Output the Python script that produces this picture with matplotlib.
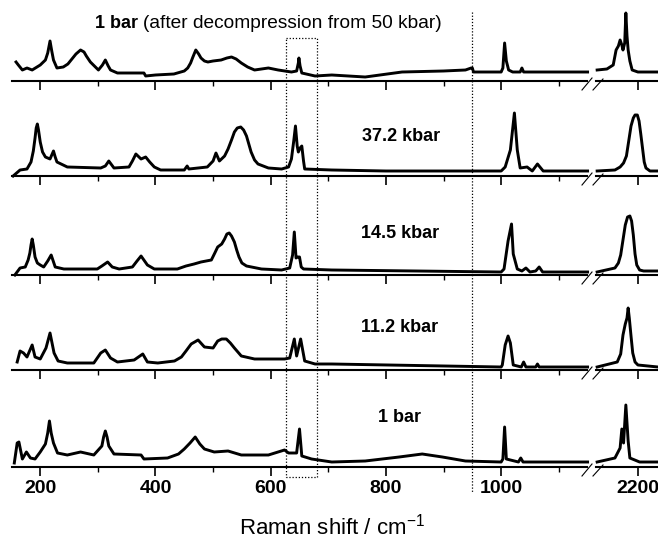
import matplotlib
matplotlib.use("Agg")
import matplotlib.pyplot as plt
from matplotlib.lines import Line2D
from matplotlib.ticker import FixedLocator
from matplotlib.transforms import blended_transform_factory

plt.rcParams['font.family'] = ['Liberation Sans', 'DejaVu Sans']
plt.rcParams['mathtext.fontset'] = 'custom'
plt.rcParams['mathtext.rm'] = 'Liberation Sans'
plt.rcParams['mathtext.it'] = 'Liberation Sans'

# Spectra (x: Raman shift in cm-1, y: height above baseline, px)
# 1 bar, after decompression from 50 kbar
decomp_x = [158, 162, 169, 177, 186, 200, 209, 213, 217, 220, 223, 229, 240, 248, 255, 262,
            270, 276, 280, 287, 301, 308, 313, 318, 322, 334, 360, 380, 383, 400, 432, 450,
            456, 461, 465, 470, 475, 479, 485, 491, 500, 514, 524, 532, 540, 549, 560, 572,
            596, 613, 636, 645, 648, 649, 651, 654, 677, 706, 764, 828, 900, 938, 948, 950,
            952, 1000, 1003, 1006, 1009, 1013, 1020, 1033, 1036, 1039, 1100, 1150]
decomp_y = [19, 16, 11, 13, 11, 16, 21, 28, 40, 30, 21, 13, 14, 17, 22, 27,
            31, 29, 25, 19, 11, 16, 21, 15, 11, 8, 8, 8, 5, 6, 7, 10,
            13, 18, 24, 31, 27, 23, 20, 19, 20, 21, 23, 24, 22, 18, 14, 11,
            13, 11, 9, 10, 18, 23, 15, 8, 5, 6, 4, 9, 10, 11, 13, 13,
            9, 9, 13, 38, 20, 11, 9, 9, 13, 9, 9, 9]
decomp_xr = [2129, 2146, 2157, 2162, 2166, 2169, 2172, 2174, 2177, 2179, 2181, 2183, 2186, 2190, 2200, 2235]
decomp_yr = [11, 12, 16, 31, 35, 41, 36, 31, 38, 68, 45, 31, 20, 11, 9, 9]

# 37.2 kbar
p372_x = [153, 165, 177, 180, 184, 188, 191, 193, 195, 197, 200, 204, 209, 217, 220, 223,
          226, 229, 247, 305, 313, 319, 328, 354, 360, 366, 375, 383, 390, 398, 409, 450,
          455, 458, 490, 500, 505, 511, 520, 526, 532, 537, 542, 548, 553, 558, 562, 566,
          572, 578, 596, 619, 631, 636, 640, 643, 646, 648, 651, 654, 657, 659, 706, 800,
          1000, 1007, 1016, 1023, 1028, 1033, 1045, 1054, 1063, 1073, 1150]
p372_y = [0, 6, 7, 10, 14, 25, 38, 48, 52, 46, 34, 24, 19, 17, 21, 25,
          19, 14, 9, 8, 10, 15, 8, 9, 15, 22, 17, 19, 14, 9, 6, 6,
          10, 7, 9, 15, 23, 15, 20, 27, 36, 44, 48, 49, 46, 40, 32, 24,
          16, 12, 8, 7, 9, 17, 35, 50, 30, 24, 28, 30, 15, 7, 6, 5,
          5, 9, 26, 63, 26, 8, 9, 5, 12, 5, 5]
p372_xr = [2129, 2160, 2169, 2175, 2180, 2184, 2188, 2192, 2195, 2199, 2202, 2205, 2208, 2211, 2214, 2221, 2235]
p372_yr = [5, 6, 9, 13, 20, 35, 50, 58, 61, 61, 55, 42, 28, 14, 8, 5, 5]

# 14.5 kbar
p145_x = [156, 165, 174, 179, 182, 184, 186, 188, 191, 195, 200, 206, 213, 219, 226, 241,
          299, 307, 317, 325, 337, 360, 368, 375, 386, 398, 438, 453, 467, 479, 497, 503,
          508, 515, 520, 524, 528, 532, 537, 541, 545, 550, 558, 584, 619, 633, 638, 641,
          644, 647, 650, 653, 657, 706, 1000, 1005, 1012, 1018, 1021, 1028, 1036, 1043,
          1050, 1060, 1066, 1072, 1150]
p145_y = [0, 7, 8, 15, 22, 30, 36, 30, 18, 12, 10, 8, 14, 20, 8, 6,
          6, 9, 13, 8, 6, 8, 14, 19, 10, 6, 6, 9, 11, 13, 15, 22,
          28, 31, 36, 41, 42, 39, 33, 25, 18, 12, 9, 6, 5, 7, 20, 43,
          17, 18, 18, 8, 6, 5, 3, 6, 34, 51, 21, 6, 4, 7,
          3, 4, 8, 3, 3]
p145_xr = [2129, 2160, 2166, 2170, 2174, 2178, 2182, 2186, 2189, 2192, 2195, 2198, 2203, 2210, 2235]
p145_yr = [3, 7, 12, 20, 35, 50, 58, 59, 54, 40, 21, 10, 5, 4, 4]

# 11.2 kbar
p112_x = [160, 165, 171, 177, 186, 191, 200, 210, 217, 224, 231, 247, 293, 305, 313, 322,
          334, 363, 378, 386, 404, 433, 445, 453, 462, 474, 485, 500, 508, 515, 523, 530,
          537, 549, 572, 624, 633, 641, 645, 652, 659, 677, 706, 1000, 1002, 1007, 1012,
          1016, 1021, 1035, 1039, 1043, 1060, 1063, 1066, 1150]
p112_y = [8, 19, 17, 13, 25, 13, 11, 22, 37, 17, 9, 7, 7, 17, 20, 12,
          8, 10, 16, 8, 7, 9, 13, 19, 26, 30, 23, 22, 29, 31, 31, 27,
          22, 14, 11, 11, 12, 31, 14, 31, 9, 6, 6, 3, 5, 25, 34,
          27, 5, 3, 8, 3, 3, 6, 3, 3]
p112_xr = [2129, 2164, 2170, 2174, 2178, 2181, 2183, 2185, 2188, 2191, 2195, 2200, 2235]
p112_yr = [3, 8, 16, 35, 46, 52, 62, 52, 34, 17, 8, 5, 3]

# 1 bar
p1_x = [155, 160, 163, 169, 176, 183, 191, 200, 209, 213, 216, 219, 223, 230, 247, 270,
        293, 307, 310, 313, 316, 319, 328, 375, 380, 421, 440, 450, 460, 469, 477, 485,
        502, 526, 549, 596, 624, 631, 645, 650, 654, 671, 706, 764, 823, 863, 898, 938,
        1000, 1003, 1006, 1009, 1030, 1034, 1038, 1150]
p1_y = [4, 24, 25, 8, 15, 9, 8, 15, 23, 34, 46, 34, 24, 14, 12, 15,
        12, 21, 30, 36, 30, 21, 13, 12, 8, 9, 13, 18, 24, 30, 23, 18,
        15, 16, 12, 12, 17, 14, 14, 38, 11, 8, 5, 6, 10, 13, 10, 6,
        5, 8, 40, 8, 5, 9, 5, 5]
p1_xr = [2129, 2160, 2169, 2172, 2175, 2179, 2183, 2186, 2203, 2235]
p1_yr = [5, 9, 19, 38, 24, 62, 26, 9, 5, 5]

labels = ["1 bar", "37.2 kbar", "14.5 kbar", "11.2 kbar", "1 bar"]
spectra = [
    (decomp_x, decomp_y, decomp_xr, decomp_yr),
    (p372_x, p372_y, p372_xr, p372_yr),
    (p145_x, p145_y, p145_xr, p145_yr),
    (p112_x, p112_y, p112_xr, p112_yr),
    (p1_x, p1_y, p1_xr, p1_yr),
]

# layout in pixels
W, H = 658, 547
axis_rows = [81, 176, 275, 370, 467]
label_pos = [(95, 24), (362, 137), (361, 233), (361, 328), (378, 418)]
panel_h = 80


def fx(px):
    return px / W


def fy(py):
    return 1 - py / H


fig = plt.figure(figsize=(W / 100, H / 100), dpi=100)

left_axes = []
for i, (xl, yl, xr, yr) in enumerate(spectra):
    ay = axis_rows[i]
    axl = fig.add_axes([fx(12), fy(ay), fx(587) - fx(12), panel_h / H])
    axr = fig.add_axes([fx(596), fy(ay), fx(658) - fx(596), panel_h / H])
    axl.plot(xl, yl, color='black', lw=2.1, clip_on=False)
    axr.plot(xr, yr, color='black', lw=2.1, clip_on=False)
    axl.set_xlim(151, 1149)
    axr.set_xlim(2127, 2235)
    for ax in (axl, axr):
        ax.set_ylim(0, panel_h)
        ax.patch.set_visible(False)
        for s in ('top', 'left', 'right'):
            ax.spines[s].set_visible(False)
        ax.spines['bottom'].set_linewidth(1.5)
        ax.set_yticks([])
        ax.tick_params(axis='x', which='major', direction='out', length=6.5, width=1.2)
        ax.tick_params(axis='x', which='minor', direction='out', length=3.5, width=1.0)
    axl.xaxis.set_major_locator(FixedLocator([200, 400, 600, 800, 1000]))
    axl.xaxis.set_minor_locator(FixedLocator([300, 500, 700, 900, 1100]))
    axr.xaxis.set_major_locator(FixedLocator([2200]))
    if i < len(spectra) - 1:
        axl.set_xticklabels([])
        axr.set_xticklabels([])
    else:
        for ax in (axl, axr):
            ax.tick_params(axis='x', labelsize=14, pad=3)
            for t in ax.get_xticklabels():
                t.set_fontweight('bold')
    left_axes.append(axl)

    # axis break marks
    fig.add_artist(Line2D([fx(582), fx(592)], [fy(ay + 9), fy(ay - 3)], color='black', lw=0.8))
    fig.add_artist(Line2D([fx(593), fx(603)], [fy(ay + 9), fy(ay - 2)], color='black', lw=0.8))

    # panel labels
    lx, ly = label_pos[i]
    fig.text(fx(lx), fy(ly), labels[i], fontsize=13, fontweight='bold', ha='left', va='center')

# rest of the top label in regular weight
renderer = fig.canvas.get_renderer()
first = fig.texts[0]
bb = first.get_window_extent(renderer)
fig.text(bb.x1 / W + fx(5), fy(label_pos[0][1]), "(after decompression from 50 kbar)",
         fontsize=13.8, ha='left', va='center')

# dotted box and dotted vertical line spanning all panels
trans = blended_transform_factory(left_axes[0].transData, fig.transFigure)
dot = dict(color='black', lw=0.9, linestyle=(0, (1, 1.5)))
box_x = [627, 680, 680, 627, 627]
box_y = [fy(38), fy(38), fy(477), fy(477), fy(38)]
fig.add_artist(Line2D(box_x, box_y, transform=trans, **dot))
fig.add_artist(Line2D([950, 950], [fy(12), fy(492)], transform=trans, **dot))

fig.text(fx(332), fy(527), "Raman shift / cm$^{-1}$", fontsize=16, ha='center', va='center')

fig.savefig("out.png", dpi=100)
